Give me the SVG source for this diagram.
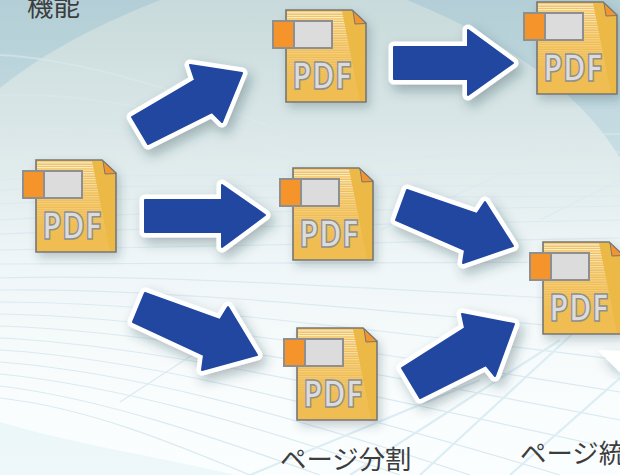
<svg xmlns="http://www.w3.org/2000/svg" xmlns:xlink="http://www.w3.org/1999/xlink" width="620" height="475" viewBox="0 0 620 475">
<style>
.arrow{fill:#2247a0;stroke:#fff;stroke-width:11;stroke-linejoin:round;filter:url(#as)}
.blue{fill:#2247a0;stroke:#2247a0;stroke-width:2;stroke-linejoin:round}
.pdf{font-family:"Open Sans","Noto Sans","Liberation Sans",sans-serif;font-size:38px;font-weight:700;fill:#dcdcdc;stroke:#8f8f8f;stroke-width:1.5px}
.lab{font-family:"Noto Sans CJK JP","Noto Sans",sans-serif;font-size:26.4px;fill:#3d3d3d}
.g{fill:none;stroke:#dbeaf1;stroke-width:1.2}
.g2{fill:none;stroke:#dbe9ef;stroke-width:2;opacity:.55}
.d{fill:none;stroke:#dcedf4;stroke-width:2.2}
</style>
<defs>
<linearGradient id="bg" x1="0" y1="0" x2="0" y2="1"><stop offset="0" stop-color="#b3ced6"/><stop offset=".35" stop-color="#c9dfe4"/><stop offset=".6" stop-color="#e6f3f7"/><stop offset="1" stop-color="#eef8fb"/></linearGradient>
<linearGradient id="el" x1="0" y1="0" x2="0" y2="1"><stop offset="0" stop-color="#c8dadb"/><stop offset=".3" stop-color="#dce8e9"/><stop offset=".55" stop-color="#eff6f7"/><stop offset=".85" stop-color="#fafdfe"/><stop offset="1" stop-color="#fbfeff"/></linearGradient>
<linearGradient id="fade" x1="0" y1="0" x2="0" y2="1"><stop offset="0" stop-color="#fff" stop-opacity=".9"/><stop offset=".4" stop-color="#fff" stop-opacity=".35"/><stop offset=".8" stop-color="#fff" stop-opacity="0"/></linearGradient>
<pattern id="st" width="4" height="2.4" patternUnits="userSpaceOnUse"><rect width="4" height="1.1" fill="#fff"/></pattern>
<mask id="m" maskContentUnits="userSpaceOnUse" x="0" y="0" width="80" height="92"><rect width="80" height="92" fill="url(#fade)"/></mask>
<filter id="as" x="-30%" y="-30%" width="170%" height="170%"><feDropShadow dx="4" dy="6" stdDeviation="6" flood-color="#1b3a4a" flood-opacity=".32"/></filter>
<filter id="is" x="-30%" y="-30%" width="170%" height="170%"><feDropShadow dx="3" dy="5" stdDeviation="5" flood-color="#1b3a4a" flood-opacity=".25"/></filter>
<g id="icon">
<path d="M0,0H66L80,13V92H0Z" fill="#ecb946" stroke="#777" stroke-width="1.6" filter="url(#is)"/>
<path d="M1,1H56L74,91H1Z" fill="#f0bd52"/>
<path d="M1,1H56L74,91H1Z" fill="url(#st)" mask="url(#m)"/>
<path d="M67,1L80,13.5L69,14Z" fill="#f4942a" stroke="#777" stroke-width="1"/>
<rect x="-13" y="11" width="59" height="27" fill="#dcdcdc" stroke="#8f8f8f" stroke-width="2"/>
<rect x="-13" y="11" width="21" height="27" fill="#f4942a" stroke="#8f8f8f" stroke-width="2"/>
</g>
</defs>
<rect width="620" height="475" fill="url(#bg)"/>
<path d="M0,88C50,48 105,22 160,0H407C500,38 580,90 620,158V475H235C150,455 70,443 0,422Z" fill="url(#el)"/>
<g id="bg-lines">
<path class="g2" d="M0,55C60,58 160,80 290,135"/>
<path class="g2" d="M0,95C80,92 190,112 300,150"/>
<path class="g2" d="M0,130C90,126 180,132 300,160"/>
<path class="g2" d="M380,143C440,138 540,135 620,134"/>
<path class="g2" d="M380,160C460,154 540,152 620,152"/>
<path class="g" d="M0,180C130,172 300,178 620,172"/>
<path class="g" d="M0,190C130,184 300,186 620,186"/>
<path class="g" d="M0,204C130,196 300,198 620,196"/>
<path class="g" d="M0,220C130,212 300,212 620,206"/>
<path class="g" d="M0,234C130,228 300,226 620,220"/>
<path class="g" d="M0,250C130,246 300,246 620,238"/>
<path class="g" d="M0,264C130,264 300,262 620,262"/>
<path class="g" d="M0,278C130,274 300,284 620,302"/>
<path class="g" d="M0,290C130,288 300,302 620,332"/>
<path class="g" d="M0,302C130,302 300,320 620,360"/>
<path class="g" d="M0,314C130,316 300,340 620,392"/>
<path class="g" d="M0,326C130,330 300,358 620,420"/>
<path class="g" d="M0,338C130,344 300,378 620,450"/>
<path class="g" d="M0,350C130,358 300,396 560,475"/>
<path class="g" d="M0,362C130,372 280,412 470,475"/>
<path class="g" d="M0,374C120,386 250,424 400,475"/>
<path class="g" d="M0,386C100,398 210,436 320,475"/>
<path class="g" d="M0,398C90,408 180,446 250,475"/>
<path class="d" d="M420,475L620,290"/>
<path class="d" d="M350,475L560,340"/>
<path class="d" d="M510,475L620,378"/>
<path class="d" d="M250,475L480,380"/>
<path class="g" d="M200,350L120,402"/>
<path class="g" d="M540,220L620,180"/>
<path class="g" d="M380,230L510,170"/>
</g>
<g id="connectors">
<g><path class="arrow" d="M394,47H468V30L513,63L468,95V79H394Z"/><path class="blue" d="M394,47H468V30L513,63L468,95V79H394Z"/></g>
<g><path class="arrow" d="M132,117L195,80L190,65L242,73L222,122L212,112L148,144Z"/><path class="blue" d="M132,117L195,80L190,65L242,73L222,122L212,112L148,144Z"/></g>
<g><path class="arrow" d="M145,200H222V185L265,215L222,247V232H145Z"/><path class="blue" d="M145,200H222V185L265,215L222,247V232H145Z"/></g>
<g><path class="arrow" d="M145,293L220,320L228,307L257,355L202,370L204,355L133,322Z"/><path class="blue" d="M145,293L220,320L228,307L257,355L202,370L204,355L133,322Z"/></g>
<g><path class="arrow" d="M407,190L477,214L485,202L513,246L463,263L465,250L396,220Z"/><path class="blue" d="M407,190L477,214L485,202L513,246L463,263L465,250L396,220Z"/></g>
<g><path class="arrow" d="M402,368L465,328L462,314L514,324L495,376L486,365L420,398Z"/><path class="blue" d="M402,368L465,328L462,314L514,324L495,376L486,365L420,398Z"/></g>
</g>
<path id="partial" d="M600,351L620,352V371Z" fill="#fff" stroke="#fff" stroke-width="2" stroke-linejoin="round" filter="url(#as)"/>
<g id="node-source" transform="translate(36,160)"><use href="#icon"/><text class="pdf" x="6" y="79" textLength="60" lengthAdjust="spacingAndGlyphs">PDF</text></g>
<g id="node-top" transform="translate(286,10)"><use href="#icon"/><text class="pdf" x="6" y="79" textLength="60" lengthAdjust="spacingAndGlyphs">PDF</text></g>
<g id="node-topright" transform="translate(537,2)"><use href="#icon"/><text class="pdf" x="6" y="79" textLength="60" lengthAdjust="spacingAndGlyphs">PDF</text></g>
<g id="node-middle" transform="translate(293,168)"><use href="#icon"/><text class="pdf" x="6" y="79" textLength="60" lengthAdjust="spacingAndGlyphs">PDF</text></g>
<g id="node-bottom" transform="translate(297,328)"><use href="#icon"/><text class="pdf" x="6" y="79" textLength="60" lengthAdjust="spacingAndGlyphs">PDF</text></g>
<g id="node-right" transform="translate(543,242)"><use href="#icon"/><text class="pdf" x="6" y="79" textLength="60" lengthAdjust="spacingAndGlyphs">PDF</text></g>
<text class="lab" x="27" y="16">機能</text>
<text class="lab" x="280" y="469">ページ分割</text>
<text class="lab" x="520" y="463">ページ統</text>
</svg>
